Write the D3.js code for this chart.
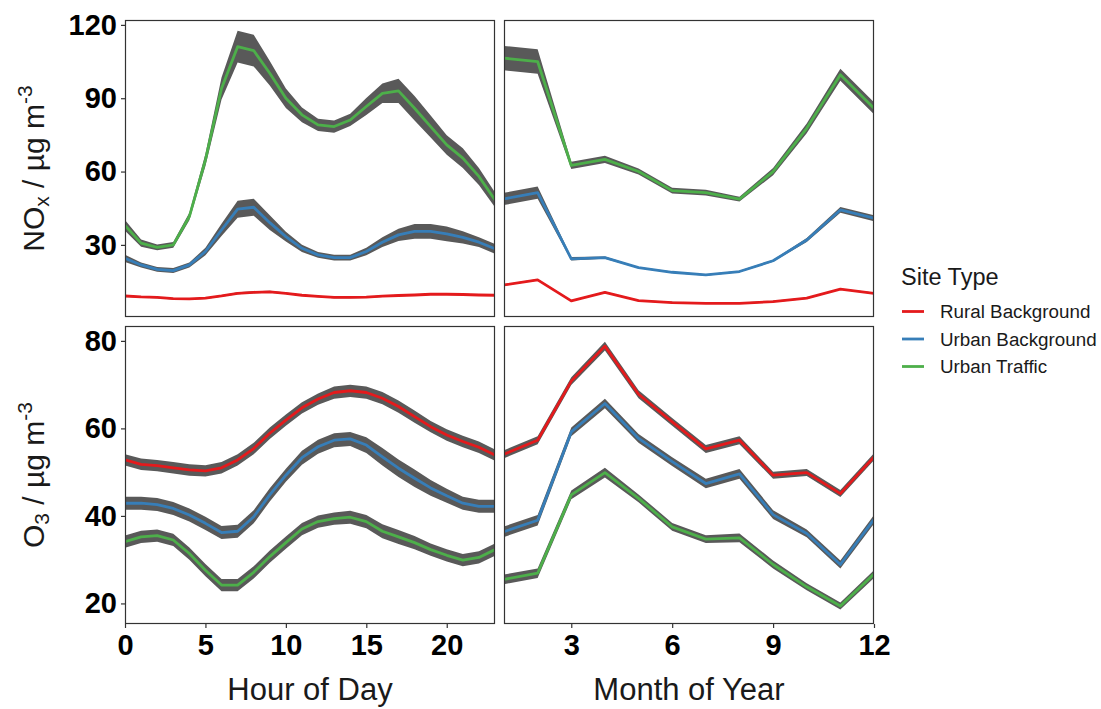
<!DOCTYPE html>
<html>
<head>
<meta charset="utf-8">
<script src="https://cdn.jsdelivr.net/npm/d3@7"></script>
<style>
  html, body { margin: 0; padding: 0; background: #fff; }
  svg { display: block; font-family: "Liberation Sans", Arial, sans-serif; }
</style>
</head>
<body>
<svg id="chart" width="1101" height="709"></svg>
<script>
// ---- data ----
const siteTypes = ["Rural Background", "Urban Background", "Urban Traffic"];
const siteColors = ["#E41A1C", "#377EB8", "#4DAF4A"];

const hours = d3.range(0, 24);
const months = d3.range(1, 13);

// NOx by hour of day (mean and half-width of the confidence band)
const noxHourRural = [9.1, 8.7, 8.5, 8.0, 7.9, 8.2, 9.1, 10.2, 10.6, 10.8, 10.2, 9.4, 8.9, 8.5, 8.5, 8.6, 9.0, 9.3, 9.5, 9.8, 9.8, 9.7, 9.5, 9.4];
const noxHourRuralCI = [0.3, 0.3, 0.3, 0.3, 0.3, 0.3, 0.3, 0.4, 0.4, 0.4, 0.3, 0.3, 0.3, 0.3, 0.3, 0.3, 0.3, 0.3, 0.3, 0.3, 0.3, 0.3, 0.3, 0.3];
const noxHourUrban = [24.5, 21.8, 20.0, 19.5, 21.8, 27.3, 36.1, 44.6, 45.4, 39.1, 33.4, 28.6, 25.9, 24.8, 24.8, 27.3, 31.1, 34.1, 35.5, 35.5, 34.5, 33.1, 31.1, 28.4];
const noxHourUrbanCI = [1.5, 1.0, 1.0, 1.0, 1.0, 1.5, 2.5, 3.5, 3.5, 3.0, 2.0, 1.5, 1.2, 1.2, 1.2, 1.5, 2.0, 2.5, 3.0, 3.0, 3.0, 2.5, 2.0, 2.0];
const noxHourTraffic = [38.0, 30.7, 29.0, 30.0, 41.6, 64.8, 94.0, 111.1, 109.5, 100.2, 90.0, 83.2, 79.1, 78.4, 81.1, 86.6, 92.0, 93.0, 85.9, 78.4, 70.9, 65.5, 58.0, 48.4];
const noxHourTrafficCI = [2.2, 1.5, 1.2, 1.2, 1.5, 2.5, 4.5, 6.5, 6.5, 5.0, 4.0, 3.0, 2.5, 2.5, 2.5, 3.5, 4.0, 5.0, 5.0, 4.5, 4.0, 4.0, 3.5, 3.0];

// NOx by month of year
const noxMonthRural = [13.6, 15.7, 7.1, 10.6, 7.2, 6.4, 6.1, 6.1, 6.8, 8.2, 11.9, 10.2];
const noxMonthRuralCI = [0.3, 0.3, 0.3, 0.3, 0.3, 0.3, 0.3, 0.3, 0.3, 0.3, 0.3, 0.3];
const noxMonthUrban = [48.8, 51.4, 24.3, 24.8, 20.7, 18.8, 17.7, 19.1, 23.5, 32.0, 44.3, 40.9];
const noxMonthUrbanCI = [2.5, 2.5, 0.7, 0.5, 0.3, 0.3, 0.3, 0.3, 0.4, 0.8, 1.2, 1.2];
const noxMonthTraffic = [106.4, 105.0, 62.5, 65.0, 60.0, 52.2, 51.4, 48.7, 60.0, 77.7, 99.6, 85.9];
const noxMonthTrafficCI = [5.0, 5.0, 1.5, 1.5, 1.2, 1.2, 1.2, 1.0, 1.5, 2.0, 2.5, 2.5];

// O3 by hour of day
const o3HourRural = [52.8, 51.8, 51.5, 51.0, 50.5, 50.3, 51.0, 52.8, 55.4, 58.9, 61.9, 64.7, 66.7, 68.2, 68.6, 68.2, 66.9, 65.0, 62.7, 60.4, 58.5, 57.0, 55.7, 53.9];
const o3HourRuralCI = [1.3, 1.3, 1.3, 1.3, 1.3, 1.3, 1.3, 1.3, 1.3, 1.3, 1.3, 1.3, 1.3, 1.4, 1.4, 1.4, 1.4, 1.4, 1.4, 1.3, 1.3, 1.3, 1.3, 1.3];
const o3HourUrban = [42.9, 42.9, 42.6, 41.7, 40.2, 38.3, 36.2, 36.5, 39.8, 44.8, 49.3, 53.3, 55.8, 57.3, 57.6, 56.2, 53.5, 50.9, 48.6, 46.4, 44.6, 42.9, 42.2, 42.2];
const o3HourUrbanCI = [1.5, 1.5, 1.5, 1.5, 1.5, 1.5, 1.5, 1.5, 1.5, 1.5, 1.5, 1.6, 1.6, 1.6, 1.6, 1.8, 2.0, 2.0, 2.0, 1.8, 1.6, 1.5, 1.5, 1.5];
const o3HourTraffic = [34.1, 35.2, 35.5, 34.5, 31.4, 27.6, 24.2, 24.2, 27.1, 30.7, 33.9, 37.0, 38.7, 39.4, 39.7, 38.7, 36.5, 35.2, 33.9, 32.3, 31.0, 29.9, 30.5, 32.3];
const o3HourTrafficCI = [1.4, 1.4, 1.4, 1.4, 1.4, 1.4, 1.4, 1.4, 1.4, 1.4, 1.4, 1.4, 1.4, 1.4, 1.5, 1.5, 1.6, 1.6, 1.5, 1.4, 1.4, 1.4, 1.4, 1.4];

// O3 by month of year
const o3MonthRural = [54.1, 57.3, 70.8, 78.8, 67.8, 61.5, 55.3, 57.3, 49.3, 49.9, 45.1, 53.5];
const o3MonthRuralCI = [0.9, 0.9, 0.9, 1.0, 0.9, 0.9, 0.9, 0.9, 0.8, 0.8, 0.8, 0.8];
const o3MonthUrban = [36.4, 39.0, 59.2, 65.7, 57.7, 52.4, 47.4, 49.6, 40.3, 36.0, 28.9, 39.2];
const o3MonthUrbanCI = [1.2, 1.2, 1.0, 1.1, 1.0, 1.0, 1.1, 1.1, 1.0, 0.9, 0.9, 1.0];
const o3MonthTraffic = [25.5, 26.9, 44.8, 49.9, 44.0, 37.5, 34.7, 35.0, 28.9, 23.8, 19.4, 26.7];
const o3MonthTrafficCI = [1.1, 1.1, 1.0, 1.1, 0.9, 0.9, 0.9, 1.0, 0.9, 0.8, 0.8, 0.9];

// axis ticks
const noxTicks = [30, 60, 90, 120];
const o3Ticks = [20, 40, 60, 80];
const hourTicks = [0, 5, 10, 15, 20];
const monthTicks = [3, 6, 9, 12];

// ---- layout ----
const svg = d3.select("#chart");
const colX = [{ x0: 125, x1: 495 }, { x0: 504, x1: 874 }];
const rowY = [{ y0: 20, y1: 317 }, { y0: 326, y1: 624 }];

const xHour = d3.scaleLinear().domain([0, 23]).range([colX[0].x0, colX[0].x1]);
const xMonth = d3.scaleLinear().domain([1, 12]).range([colX[1].x0, colX[1].x1]);
const yNox = d3.scaleLinear().domain([0.5, 122]).range([rowY[0].y1, rowY[0].y0]);
const yO3 = d3.scaleLinear().domain([15.3, 83.4]).range([rowY[1].y1, rowY[1].y0]);

const ribbonFill = "#595959";
const borderColor = "#333333";

const panels = [
  { col: 0, row: 0, x: xHour, y: yNox, xs: hours,
    series: [[noxHourRural, noxHourRuralCI], [noxHourUrban, noxHourUrbanCI], [noxHourTraffic, noxHourTrafficCI]] },
  { col: 1, row: 0, x: xMonth, y: yNox, xs: months,
    series: [[noxMonthRural, noxMonthRuralCI], [noxMonthUrban, noxMonthUrbanCI], [noxMonthTraffic, noxMonthTrafficCI]] },
  { col: 0, row: 1, x: xHour, y: yO3, xs: hours,
    series: [[o3HourRural, o3HourRuralCI], [o3HourUrban, o3HourUrbanCI], [o3HourTraffic, o3HourTrafficCI]] },
  { col: 1, row: 1, x: xMonth, y: yO3, xs: months,
    series: [[o3MonthRural, o3MonthRuralCI], [o3MonthUrban, o3MonthUrbanCI], [o3MonthTraffic, o3MonthTrafficCI]] }
];

const defs = svg.append("defs");

panels.forEach((p, i) => {
  const cx = colX[p.col], ry = rowY[p.row];
  const clipId = "clip" + i;
  defs.append("clipPath").attr("id", clipId)
    .append("rect").attr("x", cx.x0).attr("y", ry.y0)
    .attr("width", cx.x1 - cx.x0).attr("height", ry.y1 - ry.y0);

  const g = svg.append("g").attr("clip-path", `url(#${clipId})`);

  const area = d3.area()
    .x(d => p.x(d.x)).y0(d => p.y(d.v - d.ci)).y1(d => p.y(d.v + d.ci));
  const line = d3.line().x(d => p.x(d.x)).y(d => p.y(d.v));

  const rows = p.series.map(([vals, ci]) => p.xs.map((x, k) => ({ x, v: vals[k], ci: ci[k] })));

  // confidence bands first, then mean lines on top
  rows.forEach(r => {
    g.append("path").attr("d", area(r)).attr("fill", ribbonFill);
  });
  rows.forEach((r, s) => {
    g.append("path").attr("d", line(r)).attr("fill", "none")
      .attr("stroke", siteColors[s]).attr("stroke-width", 2.8)
      .attr("stroke-linejoin", "round");
  });

  // panel border
  svg.append("rect").attr("x", cx.x0 + 0.5).attr("y", ry.y0 + 0.5)
    .attr("width", cx.x1 - cx.x0 - 1).attr("height", ry.y1 - ry.y0 - 1)
    .attr("fill", "none").attr("stroke", borderColor).attr("stroke-width", 1.2);
});

// ---- axes ----
function styleAxis(sel) {
  sel.select(".domain").remove();
  sel.selectAll(".tick line").attr("stroke", borderColor).attr("stroke-width", 1.2);
  sel.selectAll(".tick text")
    .attr("fill", "#000").attr("font-size", 29).attr("font-weight", "bold")
    .attr("font-family", "'Liberation Sans', Arial, sans-serif");
}

svg.append("g").attr("transform", `translate(${colX[0].x0},0)`)
  .call(d3.axisLeft(yNox).tickValues(noxTicks).tickSize(4).tickPadding(4))
  .call(styleAxis);
svg.append("g").attr("transform", `translate(${colX[0].x0},0)`)
  .call(d3.axisLeft(yO3).tickValues(o3Ticks).tickSize(4).tickPadding(4))
  .call(styleAxis);
svg.append("g").attr("transform", `translate(0,${rowY[1].y1})`)
  .call(d3.axisBottom(xHour).tickValues(hourTicks).tickSize(4).tickPadding(6))
  .call(styleAxis);
svg.append("g").attr("transform", `translate(0,${rowY[1].y1})`)
  .call(d3.axisBottom(xMonth).tickValues(monthTicks).tickSize(4).tickPadding(6))
  .call(styleAxis);

// ---- axis titles ----
const titleColor = "#1a1a1a";
svg.append("text").attr("x", (colX[0].x0 + colX[0].x1) / 2).attr("y", 700)
  .attr("text-anchor", "middle").attr("font-size", 31).attr("fill", titleColor)
  .text("Hour of Day");
svg.append("text").attr("x", (colX[1].x0 + colX[1].x1) / 2).attr("y", 700)
  .attr("text-anchor", "middle").attr("font-size", 31).attr("fill", titleColor)
  .text("Month of Year");

function yTitle(cy, main, sub) {
  const t = svg.append("text")
    .attr("transform", `translate(44,${cy}) rotate(-90)`)
    .attr("text-anchor", "middle").attr("font-size", 30).attr("fill", titleColor);
  t.append("tspan").text(main);
  t.append("tspan").attr("font-size", 21).attr("dy", 5).text(sub);
  t.append("tspan").attr("dy", -5).text(" / µg m");
  t.append("tspan").attr("font-size", 21).attr("dy", -12).text("-3");
}
yTitle((rowY[0].y0 + rowY[0].y1) / 2, "NO", "x");
yTitle((rowY[1].y0 + rowY[1].y1) / 2, "O", "3");

// ---- legend ----
const legend = svg.append("g");
legend.append("text").attr("x", 901).attr("y", 285)
  .attr("font-size", 23.5).attr("fill", titleColor).text("Site Type");
siteTypes.forEach((name, i) => {
  const y = 311.5 + i * 27.5;
  legend.append("line").attr("x1", 902).attr("x2", 924).attr("y1", y).attr("y2", y)
    .attr("stroke", siteColors[i]).attr("stroke-width", 2.8);
  legend.append("text").attr("x", 940).attr("y", y + 6.5)
    .attr("font-size", 18.8).attr("fill", titleColor).text(name);
});
</script>
</body>
</html>
